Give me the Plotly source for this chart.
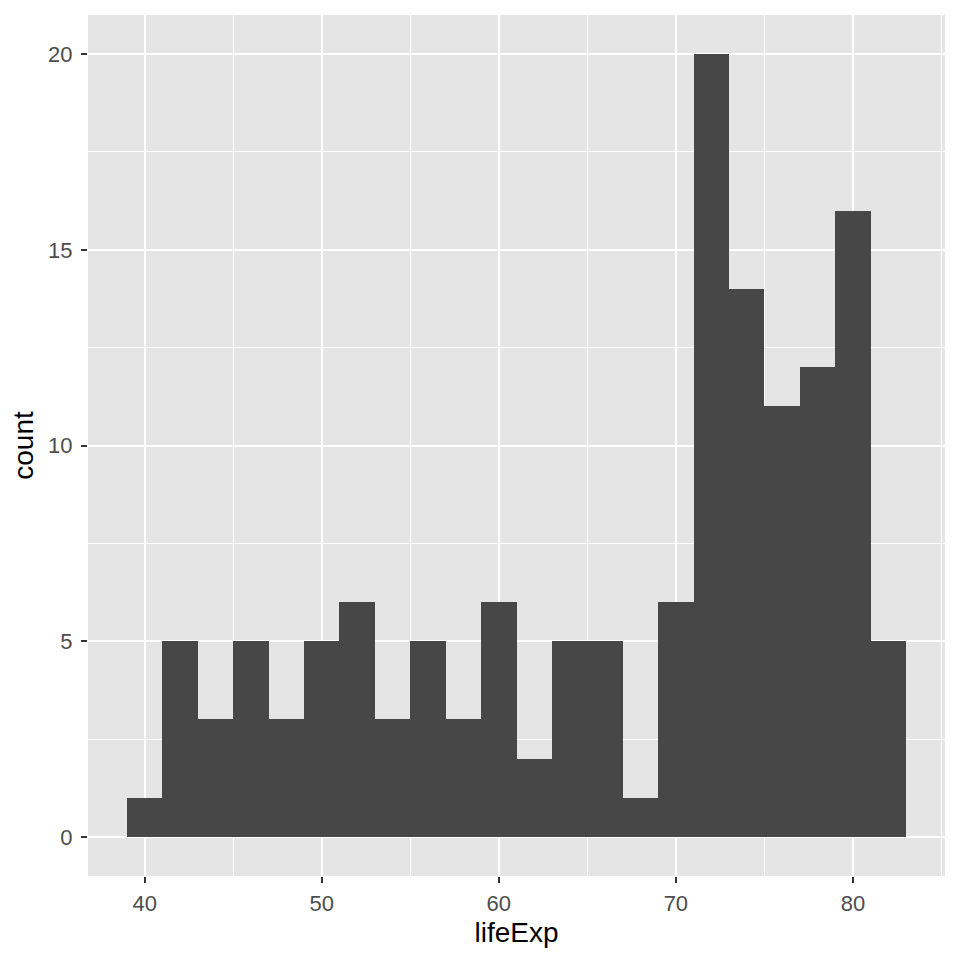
import plotly.graph_objects as go

bin_centers = [40, 42, 44, 46, 48, 50, 52, 54, 56, 58, 60, 62, 64, 66, 68, 70, 72, 74, 76, 78, 80, 82]
counts = [1, 5, 3, 5, 3, 5, 6, 3, 5, 3, 6, 2, 5, 5, 1, 6, 20, 14, 11, 12, 16, 5]
bin_width = 2
x_ticks = [40, 50, 60, 70, 80]
y_ticks = [0, 5, 10, 15, 20]

fig = go.Figure(go.Bar(
    x=bin_centers, y=counts, width=[bin_width] * len(bin_centers),
    marker=dict(color="#474747", line=dict(width=0)),
))

font = "Liberation Sans, Arial, Helvetica, sans-serif"
axis_common = dict(
    showgrid=True, gridcolor="white", gridwidth=2.4,
    zeroline=False, showline=False,
    ticks="outside", ticklen=6, tickwidth=2, tickcolor="#333333",
    tickfont=dict(family=font, size=22, color="#4D4D4D"),
    title_font=dict(family=font, size=28, color="black"),
)

fig.update_xaxes(
    range=[36.8, 85.2], tickvals=x_ticks, title_text="lifeExp",
    minor=dict(showgrid=True, gridcolor="white", gridwidth=1.2, dtick=5, tick0=0),
    title_standoff=6, ticklabelstandoff=2,
    **axis_common,
)
fig.update_yaxes(
    range=[-1, 21], tickvals=y_ticks, title_text="count",
    minor=dict(showgrid=True, gridcolor="white", gridwidth=1.2, dtick=2.5, tick0=0),
    title_standoff=10, ticklabelstandoff=4,
    **axis_common,
)

fig.update_layout(
    width=952, height=952,
    margin=dict(l=80, r=15, t=7, b=84),
    plot_bgcolor="#E5E5E5", paper_bgcolor="white",
    bargap=0, showlegend=False,
)

fig.write_html("out.html")
